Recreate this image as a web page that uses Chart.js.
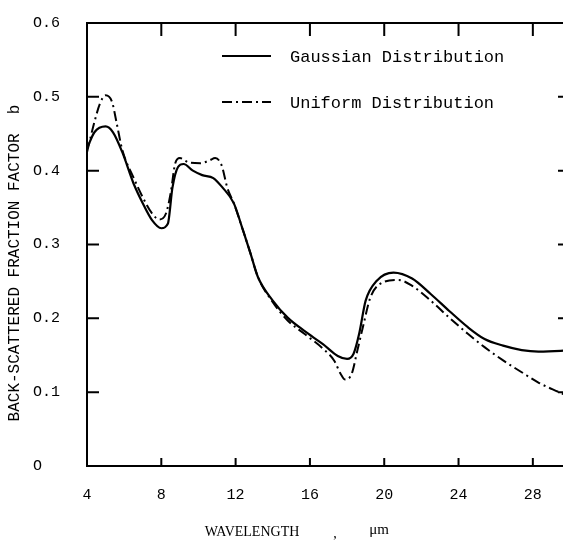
<!DOCTYPE html>
<html>
<head>
<meta charset="utf-8">
<script src="https://cdn.jsdelivr.net/npm/chart.js@4"></script>
<style>
  html, body { margin: 0; padding: 0; background: #fff; overflow: hidden; }
  canvas { display: block; }
</style>
</head>
<body>
<canvas id="scatterChart" width="580" height="544"></canvas>
<script>
// wavelength (um) and back-scattered fraction b for each size distribution
const gaussWl = [4.0, 4.4, 5.0, 5.4, 5.9, 6.5, 7.0, 7.5, 8.0, 8.35, 8.6, 8.9, 9.2, 9.7, 10.2, 10.8, 11.3, 11.9, 12.4, 12.8, 13.2, 14.0, 14.8, 15.7, 16.7, 17.5, 18.0, 18.35, 18.65, 19.0, 19.6, 20.5, 21.5, 22.5, 23.5, 24.5, 25.4, 26.4, 27.4, 28.3, 29.5, 30.0];
const gaussB = [0.430, 0.452, 0.460, 0.452, 0.425, 0.383, 0.356, 0.333, 0.322, 0.328, 0.377, 0.405, 0.409, 0.400, 0.394, 0.390, 0.377, 0.356, 0.319, 0.288, 0.256, 0.224, 0.201, 0.183, 0.165, 0.149, 0.145, 0.152, 0.179, 0.224, 0.251, 0.262, 0.254, 0.233, 0.210, 0.188, 0.172, 0.163, 0.157, 0.155, 0.156, 0.157];

const uniformWl = [4.0, 4.4, 4.7, 5.0, 5.35, 5.6, 5.9, 6.5, 7.0, 7.5, 7.9, 8.25, 8.5, 8.75, 9.0, 9.5, 10.1, 10.6, 10.9, 11.25, 11.55, 11.9, 12.4, 12.8, 13.2, 14.0, 14.8, 15.7, 16.7, 17.3, 17.65, 17.9, 18.25, 18.55, 18.85, 19.25, 19.8, 20.75, 21.5, 22.5, 23.5, 24.5, 25.4, 26.4, 27.4, 28.3, 29.5, 30.0];
const uniformB = [0.425, 0.466, 0.491, 0.502, 0.493, 0.464, 0.428, 0.391, 0.364, 0.342, 0.334, 0.342, 0.369, 0.410, 0.417, 0.411, 0.410, 0.414, 0.417, 0.407, 0.377, 0.356, 0.319, 0.288, 0.256, 0.222, 0.197, 0.179, 0.159, 0.143, 0.125, 0.117, 0.125, 0.156, 0.188, 0.228, 0.247, 0.252, 0.244, 0.224, 0.201, 0.179, 0.161, 0.143, 0.127, 0.113, 0.099, 0.093];

const seriesNames = ["Gaussian Distribution", "Uniform Distribution"];
const xTickValues = [4, 8, 12, 16, 20, 24, 28];
const yTickValues = [0, 0.1, 0.2, 0.3, 0.4, 0.5, 0.6];
const yTickLabels = ["O", "O.1", "O.2", "O.3", "O.4", "O.5", "O.6"];

const monoFont = "'Liberation Mono', 'DejaVu Sans Mono', monospace";
const uniformDash = [10, 4, 2, 4];

const toPoints = (xs, ys) => xs.map((x, i) => ({ x: x, y: ys[i] }));

// box, inward ticks, legend and axis titles
const framePlugin = {
  id: "frame",
  afterDraw(chart) {
    const { ctx, chartArea: a, scales } = chart;
    ctx.save();
    ctx.strokeStyle = "#000";
    ctx.lineWidth = 2;
    ctx.strokeRect(a.left, a.top, a.right - a.left, a.bottom - a.top);

    ctx.beginPath();
    xTickValues.slice(1).forEach(v => {
      const px = scales.x.getPixelForValue(v);
      ctx.moveTo(px, a.bottom); ctx.lineTo(px, a.bottom - 8);
      ctx.moveTo(px, a.top); ctx.lineTo(px, a.top + 13);
    });
    yTickValues.slice(1, -1).forEach(v => {
      const py = scales.y.getPixelForValue(v);
      ctx.moveTo(a.left, py); ctx.lineTo(a.left + 12, py);
      ctx.moveTo(a.right, py); ctx.lineTo(a.right - 12, py);
    });
    ctx.stroke();

    // legend
    const lx = a.left + 135, tx = a.left + 203;
    const rows = [a.top + 33, a.top + 79];
    ctx.font = "17px " + monoFont;
    ctx.fillStyle = "#000";
    ctx.textBaseline = "middle";
    ctx.textAlign = "left";
    chart.data.datasets.forEach((ds, i) => {
      ctx.lineWidth = ds.borderWidth;
      ctx.setLineDash(ds.borderDash || []);
      ctx.beginPath();
      ctx.moveTo(lx, rows[i]);
      ctx.lineTo(lx + 49, rows[i]);
      ctx.stroke();
      ctx.fillText(ds.label, tx, rows[i] + 1);
    });
    ctx.setLineDash([]);

    // x axis title
    ctx.font = "14px 'Liberation Serif', serif";
    ctx.textAlign = "center";
    ctx.fillText("WAVELENGTH", 252, 532);
    ctx.fillText(",", 335, 534);
    ctx.font = "15px 'Liberation Serif', serif";
    ctx.fillText("\u03bcm", 379, 530);

    // y axis title
    ctx.translate(15, 263);
    ctx.rotate(-Math.PI / 2);
    ctx.font = "16px " + monoFont;
    ctx.fillText("BACK-SCATTERED FRACTION FACTOR  b", 0, 0);
    ctx.restore();
  }
};

new Chart(document.getElementById("scatterChart"), {
  type: "line",
  data: {
    datasets: [{
      label: seriesNames[0],
      data: toPoints(gaussWl, gaussB),
      borderColor: "#000",
      borderWidth: 2.2,
      pointRadius: 0,
      cubicInterpolationMode: "monotone"
    }, {
      label: seriesNames[1],
      data: toPoints(uniformWl, uniformB),
      borderColor: "#000",
      borderWidth: 2,
      borderDash: uniformDash,
      pointRadius: 0,
      cubicInterpolationMode: "monotone"
    }]
  },
  options: {
    responsive: false,
    animation: false,
    devicePixelRatio: 1,
    layout: { padding: { left: 33, top: 23, right: 10, bottom: 0 } },
    plugins: { legend: { display: false }, tooltip: { enabled: false } },
    scales: {
      x: {
        type: "linear",
        min: 4,
        max: 30,
        afterBuildTicks: axis => { axis.ticks = xTickValues.map(v => ({ value: v })); },
        afterFit: axis => { axis.height = 78; },
        grid: { display: false, drawTicks: false },
        border: { display: false },
        ticks: {
          color: "#000",
          padding: 20,
          maxRotation: 0,
          font: { family: monoFont, size: 15 }
        }
      },
      y: {
        min: 0,
        max: 0.6,
        afterBuildTicks: axis => { axis.ticks = yTickValues.map(v => ({ value: v })); },
        afterFit: axis => { axis.width = 54; },
        grid: { display: false, drawTicks: false },
        border: { display: false },
        ticks: {
          color: "#000",
          crossAlign: "far",
          font: { family: monoFont, size: 15 },
          callback: (v, i) => yTickLabels[i]
        }
      }
    }
  },
  plugins: [framePlugin]
});
</script>
</body>
</html>
